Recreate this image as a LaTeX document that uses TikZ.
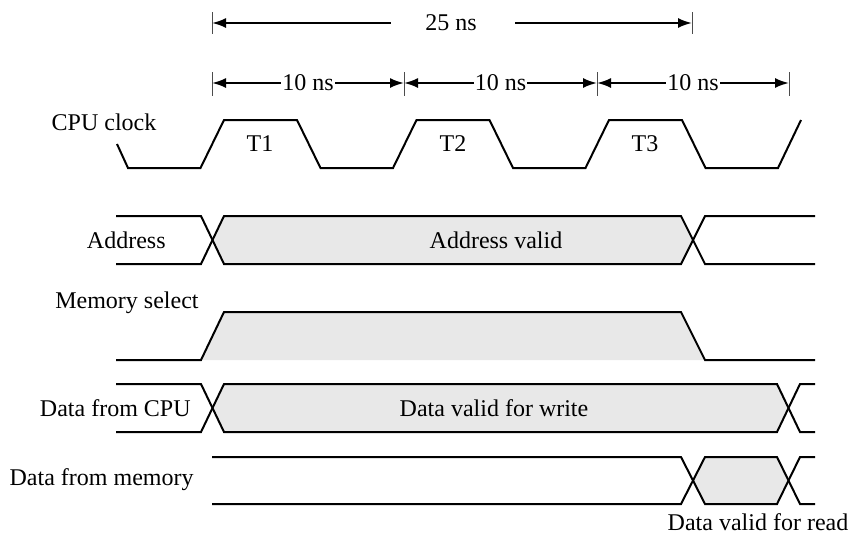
\documentclass[tikz,border=0pt]{standalone}
\usepackage{fontspec}
\setmainfont{Liberation Serif}
\usetikzlibrary{arrows.meta,calc}
\tikzset{
    sig/.style={line width=1pt, line join=miter},
    valid/.style={fill=black!9},
    tick/.style={line width=0.5pt, black!70},
    dim/.style={line width=1pt, {Latex[length=7pt,width=5pt]}-{Latex[length=7pt,width=5pt]}},
    dimend/.style={line width=1pt, -{Latex[length=7pt,width=5pt]}},
    lbl/.style={font=\fontsize{12}{14}\selectfont, inner sep=1pt}
}

\begin{document}
\begin{tikzpicture}[x=0.5pt,y=-0.5pt]
    \useasboundingbox (0,0) rectangle (851,538);
    % time marks
    \foreach \n/\x in {a/212,b/404,c/597,d/789} {
        \coordinate (m\n) at (\x,83);
        \draw[tick] (\x,72) -- (\x,96);
    }
    \coordinate (sa) at (212,23);
    \coordinate (sb) at (692,23);
    \draw[tick] (212,12) -- (212,34);
    \draw[tick] (692,12) -- (692,34);
    \node[lbl] (t25) at (451,23) {25 ns};
    \draw[dimend] ($(t25.west)+(-32,0)$) -- (sa);
    \draw[dimend] ($(t25.east)+(36,0)$) -- (sb);
    \foreach \p/\q in {ma/mb,mb/mc,mc/md} {
        \draw[dim] (\p) -- (\q);
        \node[lbl,fill=white,inner sep=0.5pt] at ($(\p)!0.5!(\q)$) {10 ns};
    }
    % CPU clock
    \draw[sig] (117,144) -- (128,168)
        \foreach \i in {0,1,2} {
            -- ({200.5+192.5*\i},168) -- ({224+192.5*\i},120)
            -- ({297+192.5*\i},120) -- ({320.5+192.5*\i},168)
        } -- (778,168) -- (801,120);
    \foreach \t/\x in {T1/260,T2/453,T3/645}
        \node[lbl] (\t) at (\x,144) {\t};
    \node[lbl] (clk) at (104,122) {CPU clock}; %label
    % Address
    \fill[valid] (212.5,240) -- (224,216) -- (681,216) -- (693,240) -- (681,264) -- (224,264) -- cycle;
    \draw[sig] (116,216) -- (201,216) -- (224,264) -- (681,264) -- (705,216) -- (815,216);
    \draw[sig] (116,264) -- (201,264) -- (224,216) -- (681,216) -- (705,264) -- (815,264);
    \node[lbl,anchor=east] (adr) at (168,240) {Address}; %label
    \node[lbl] (adrv) at (496,240) {Address valid};
    % Memory select
    \fill[valid] (201,360) -- (224,312) -- (681,312) -- (705,360) -- cycle;
    \draw[sig] (116,360) -- (201,360) -- (224,312) -- (681,312) -- (705,360) -- (815,360);
    \node[lbl,anchor=east] (msel) at (201,303) {Memory select}; %label
    % Data from CPU
    \fill[valid] (212.5,408) -- (224,384) -- (777,384) -- (788.5,408) -- (777,432) -- (224,432) -- cycle;
    \draw[sig] (116,384) -- (201,384) -- (224,432) -- (777,432) -- (800,384) -- (815,384);
    \draw[sig] (116,432) -- (201,432) -- (224,384) -- (777,384) -- (800,432) -- (815,432);
    \node[lbl,anchor=east] (dcpu) at (193,408) {Data from CPU}; %label
    \node[lbl] (dwr) at (494,408) {Data valid for write};
    % Data from memory
    \fill[valid] (693,480) -- (705,457) -- (777,457) -- (788.5,480) -- (777,504) -- (705,504) -- cycle;
    \draw[sig] (212,457) -- (681,457) -- (705,504) -- (777,504) -- (800,457) -- (815,457);
    \draw[sig] (212,504) -- (681,504) -- (705,457) -- (777,457) -- (800,504) -- (815,504);
    \node[lbl,anchor=east] (dmem) at (196,480) {Data from memory}; %label
    \node[lbl] (drd) at (758,522) {Data valid for read};
\end{tikzpicture}
\end{document}
